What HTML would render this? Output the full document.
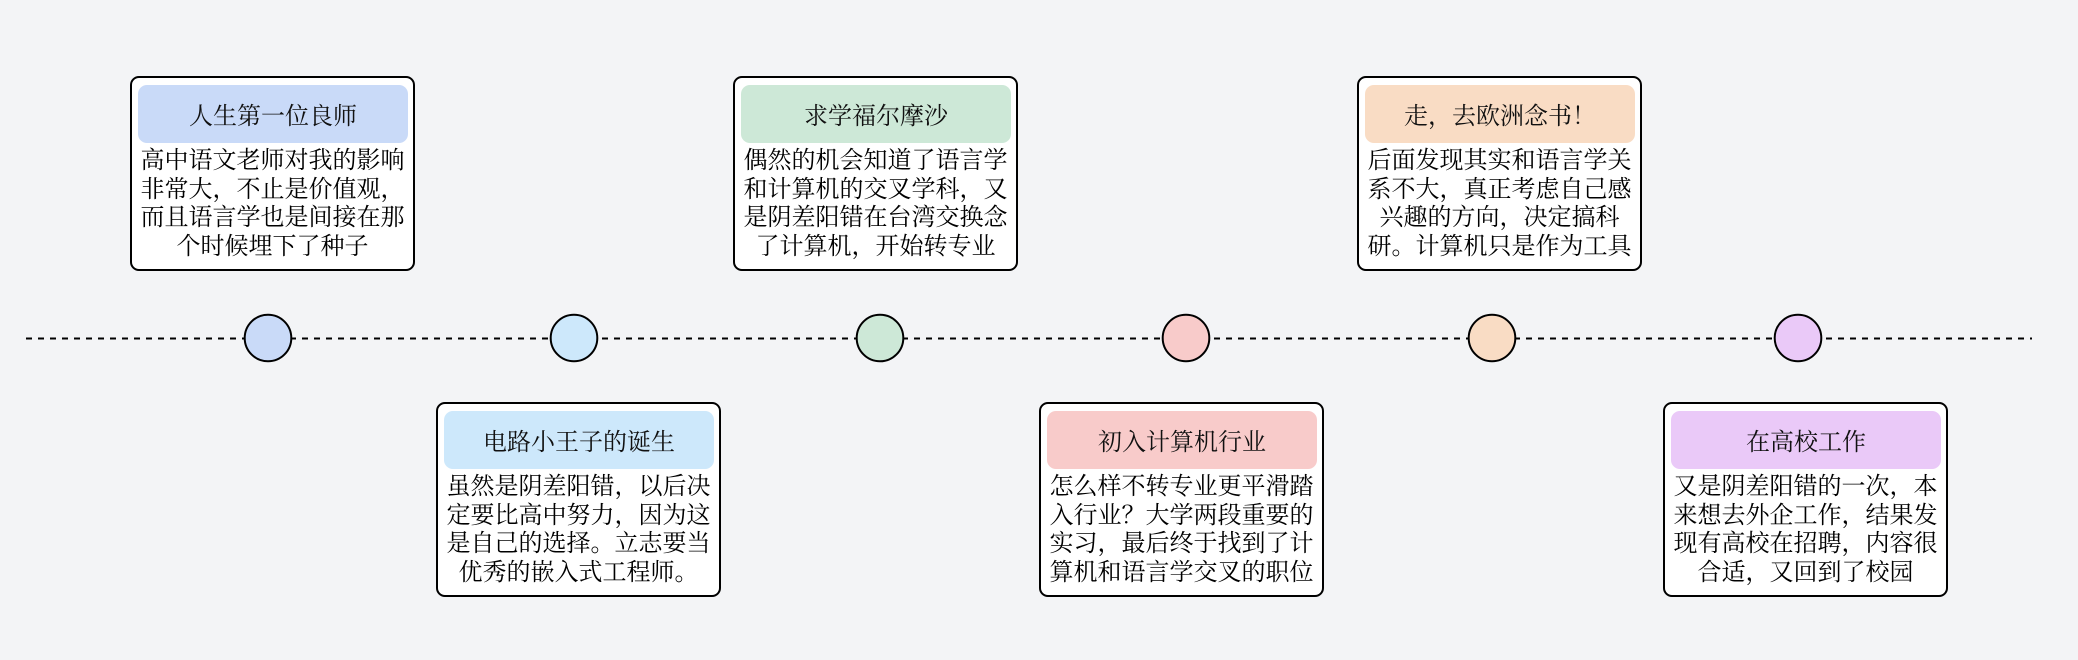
<!DOCTYPE html>
<html>
<head>
<meta charset="utf-8">
<style>
  html, body { margin:0; padding:0; }
  body { width:2078px; height:660px; background:#f3f4f6; position:relative; overflow:hidden;
         font-family:"Liberation Serif","Noto Serif CJK SC",serif; color:#000; }
  svg.bg { position:absolute; left:0; top:0; }
  .box { position:absolute; width:285px; height:195px; box-sizing:border-box;
         border:2px solid #000; border-radius:9px; background:#fff; }
  .box.top { top:76px; }
  .box.bot { top:402px; }
  .hdr { position:absolute; left:6px; top:7px; width:270px; height:58px; border-radius:9px;
         text-align:center; line-height:64px; font-size:24px; color:#111; white-space:nowrap; }
  .txt { position:absolute; left:0; width:281px; top:69px; text-align:center;
         font-size:24px; line-height:28.6px; white-space:nowrap; }
</style>
</head>
<body>
<svg class="bg" width="2078" height="660" viewBox="0 0 2078 660">
  <line x1="26" y1="338.5" x2="2032" y2="338.5" stroke="#000" stroke-width="2" stroke-dasharray="6 6"/>
  <circle cx="268" cy="338" r="23.3" fill="#c9daf8" stroke="#000" stroke-width="2"/>
  <circle cx="574" cy="338" r="23.3" fill="#cde8fb" stroke="#000" stroke-width="2"/>
  <circle cx="880" cy="338" r="23.3" fill="#cde8d7" stroke="#000" stroke-width="2"/>
  <circle cx="1186" cy="338" r="23.3" fill="#f8cbca" stroke="#000" stroke-width="2"/>
  <circle cx="1492" cy="338" r="23.3" fill="#f9dcc4" stroke="#000" stroke-width="2"/>
  <circle cx="1798" cy="338" r="23.3" fill="#eac9f8" stroke="#000" stroke-width="2"/>
</svg>

<div class="box top" style="left:130px;">
  <div class="hdr" style="background:#c9daf8;">人生第一位良师</div>
  <div class="txt">高中语文老师对我的影响<br>非常大，不止是价值观，<br>而且语言学也是间接在那<br>个时候埋下了种子</div>
</div>

<div class="box bot" style="left:436px;">
  <div class="hdr" style="background:#cde8fb;">电路小王子的诞生</div>
  <div class="txt">虽然是阴差阳错，以后决<br>定要比高中努力，因为这<br>是自己的选择。立志要当<br>优秀的嵌入式工程师。</div>
</div>

<div class="box top" style="left:733px;">
  <div class="hdr" style="background:#cde8d7;">求学福尔摩沙</div>
  <div class="txt">偶然的机会知道了语言学<br>和计算机的交叉学科，又<br>是阴差阳错在台湾交换念<br>了计算机，开始转专业</div>
</div>

<div class="box bot" style="left:1039px;">
  <div class="hdr" style="background:#f8cbca;">初入计算机行业</div>
  <div class="txt">怎么样不转专业更平滑踏<br>入行业？大学两段重要的<br>实习，最后终于找到了计<br>算机和语言学交叉的职位</div>
</div>

<div class="box top" style="left:1357px;">
  <div class="hdr" style="background:#f9dcc4;">走，去欧洲念书！</div>
  <div class="txt">后面发现其实和语言学关<br>系不大，真正考虑自己感<br>兴趣的方向，决定搞科<br>研。计算机只是作为工具</div>
</div>

<div class="box bot" style="left:1663px;">
  <div class="hdr" style="background:#eac9f8;">在高校工作</div>
  <div class="txt">又是阴差阳错的一次，本<br>来想去外企工作，结果发<br>现有高校在招聘，内容很<br>合适，又回到了校园</div>
</div>
</body>
</html>
